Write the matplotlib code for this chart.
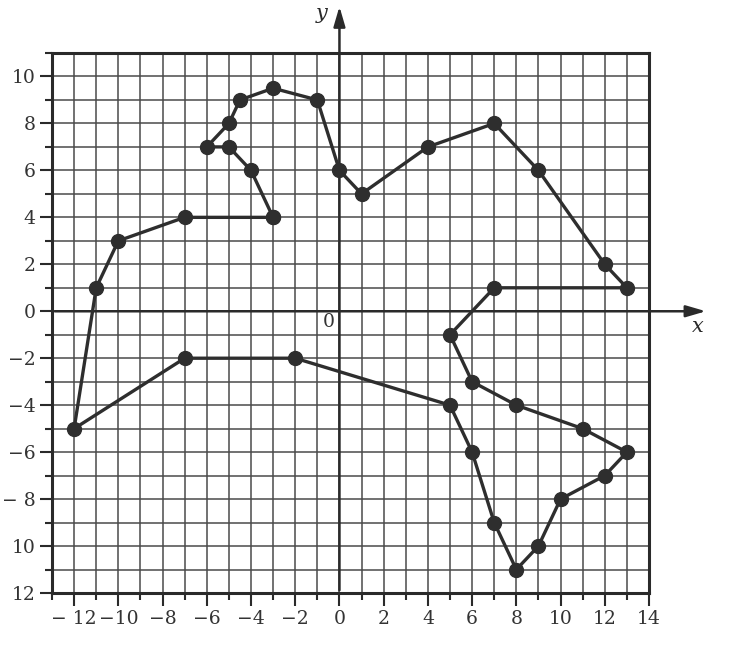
import matplotlib
matplotlib.use("Agg")
import matplotlib.pyplot as plt
import numpy as np

# polyline vertices (in drawing order)
xs = [-3, -7, -10, -11, -12, -7, -2, 5, 6, 7, 8, 9, 10, 12, 13, 11, 8, 6, 5, 7,
      13, 12, 9, 7, 4, 1, 0, -1, -3, -4.5, -5, -6, -5, -4, -3]
ys = [4, 4, 3, 1, -5, -2, -2, -4, -6, -9, -11, -10, -8, -7, -6, -5, -4, -3, -1, 1,
      1, 2, 6, 8, 7, 5, 6, 9, 9.5, 9, 8, 7, 7, 6, 4]

x_ticks = [-12, -10, -8, -6, -4, -2, 0, 2, 4, 6, 8, 10, 12, 14]
x_labels = ["\u2212 12", "\u221210", "\u22128", "\u22126", "\u22124", "\u22122", "0",
            "2", "4", "6", "8", "10", "12", "14"]
y_ticks = [-12, -10, -8, -6, -4, -2, 0, 2, 4, 6, 8, 10]
y_labels = ["12", "10", "\u2212 8", "\u22126", "\u22124", "\u22122", "0",
            "2", "4", "6", "8", "10"]

plt.rcParams['font.family'] = ['DejaVu Serif']
fig = plt.figure(figsize=(7.5, 6.56), dpi=100)
ax = fig.add_axes([52/750, (656-593)/656, (649-52)/750, (593-53)/656])
ax.set_xlim(-13, 14)
ax.set_ylim(-12, 11)

ink = "#2a2a2a"
ax.set_xticks(x_ticks)
ax.set_xticklabels(x_labels, fontsize=13.5, color="#333333")
ax.set_xticks(np.arange(-13, 15, 1), minor=True)
ax.set_yticks(y_ticks)
ax.set_yticklabels(y_labels, fontsize=13.5, color="#333333")
ax.set_yticks(np.arange(-12, 12, 1), minor=True)

ax.grid(True, which="both", color="#4a4a4a", linewidth=1.1)
ax.set_axisbelow(True)
ax.tick_params(which="major", direction="out", length=9, width=1.5, color=ink, pad=3)
ax.tick_params(which="minor", direction="out", length=5, width=1.5, color=ink)
for s in ax.spines.values():
    s.set_linewidth(2.2)
    s.set_color(ink)

# axes with arrows
ax.annotate("", xy=(16.7, 0), xytext=(-13, 0),
            arrowprops=dict(arrowstyle="-|>,head_length=1.2,head_width=0.35", color=ink, lw=1.8),
            annotation_clip=False)
ax.annotate("", xy=(0, 13.1), xytext=(0, -12),
            arrowprops=dict(arrowstyle="-|>,head_length=1.2,head_width=0.35", color=ink, lw=1.8),
            annotation_clip=False)
ax.text(16.2, -0.65, "x", fontsize=15, style="italic", ha="center", va="center", color=ink, clip_on=False)
ax.text(-0.8, 12.7, "y", fontsize=15, style="italic", ha="center", va="center", color=ink, clip_on=False)
ax.text(-0.5, -0.45, "0", fontsize=13.5, ha="center", va="center", color="#333333")

ax.plot(xs, ys, color="#2e2e2e", linewidth=2.4, marker="o", markersize=10,
        markerfacecolor="#2e2e2e", markeredgecolor="#2e2e2e", zorder=5, clip_on=False)

fig.savefig("out.png", dpi=100, facecolor="white")
